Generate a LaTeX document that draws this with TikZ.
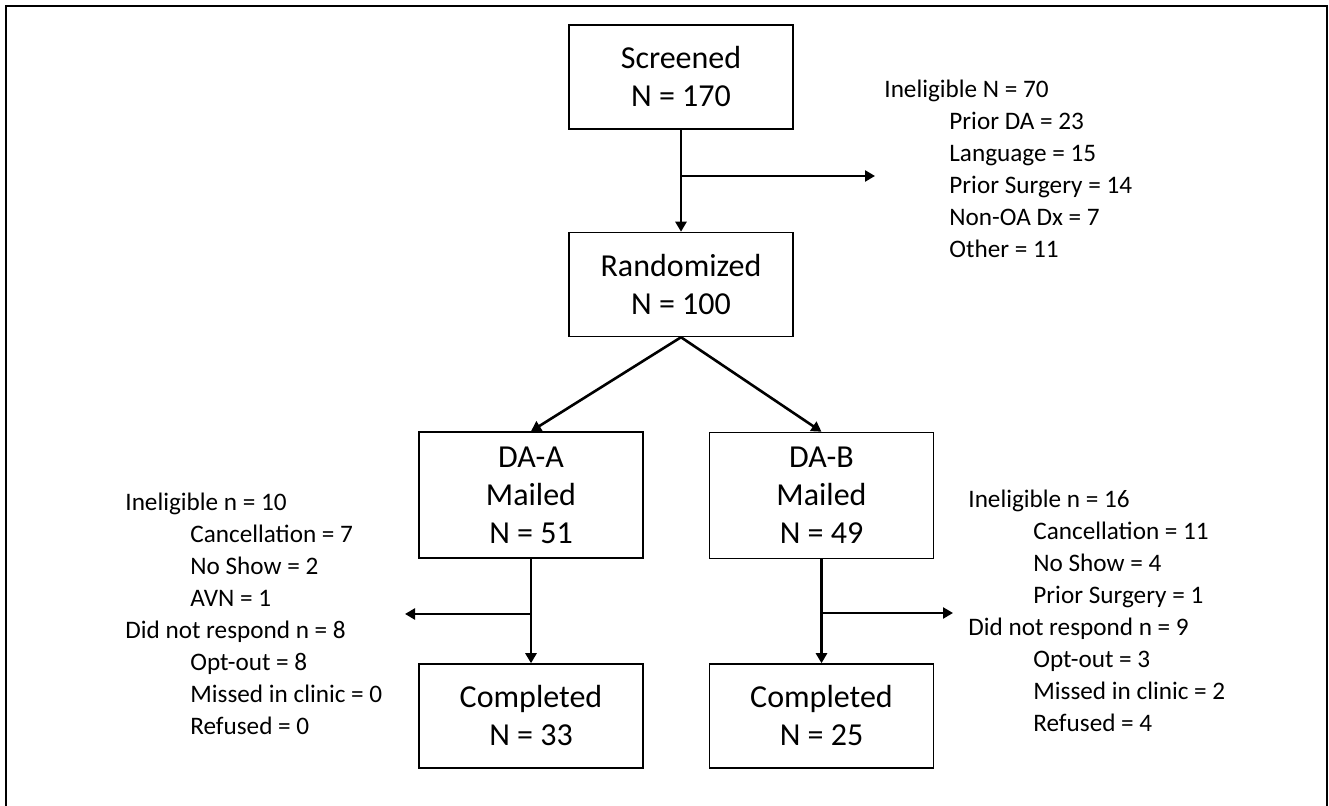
\documentclass[tikz,border=0pt]{standalone}
\usepackage{fontspec}
\setmainfont{Carlito}
\usetikzlibrary{arrows.meta}
\newcommand{\reason}[1]{\hspace*{32.5pt}#1}

\begin{document}
\begin{tikzpicture}[x=0.5pt, y=-0.5pt,
		box/.style={draw, line width=0.75pt, minimum width=112pt, minimum height=52pt, inner sep=0pt, align=center, font=\fontsize{16}{19}\selectfont},
		mailbox/.style={box, minimum height=63pt},
		flow/.style={line width=1.3pt, -{Triangle[length=5pt, width=5.5pt]}},
		reasons/.style={anchor=west, inner sep=0pt, align=left, font=\fontsize{12.6}{16}\selectfont}]
		\useasboundingbox (0,0) rectangle (1329,806);
		\draw [line width=1.1pt] (6,806) -- (6,6) -- (1327,6) -- (1327,806);
		% boxes
		\node [box] (screened) at (681,77) {Screened\\N = 170};
		\node [box] (randomized) at (681,284.5) {Randomized\\N = 100};
		\node [mailbox] (daa) at (531,495) {DA-A\\Mailed\\N = 51};
		\node [mailbox] (dab) at (821.5,495.5) {DA-B\\Mailed\\N = 49};
		\node [box] (donea) at (531,716) {Completed\\N = 33};
		\node [box] (doneb) at (821.5,716) {Completed\\N = 25};
		% exclusions
		\node [reasons] (outall) at (884,169) {Ineligible N = 70\\\reason{Prior DA = 23}\\\reason{Language = 15}\\\reason{Prior Surgery = 14}\\\reason{Non-OA Dx = 7}\\\reason{Other = 11}};
		\node [reasons] (outa) at (125,614) {Ineligible n = 10\\\reason{Cancellation = 7}\\\reason{No Show = 2}\\\reason{AVN = 1}\\Did not respond n = 8\\\reason{Opt-out = 8}\\\reason{Missed in clinic = 0}\\\reason{Refused = 0}};
		\node [reasons] (outb) at (968,611) {Ineligible n = 16\\\reason{Cancellation = 11}\\\reason{No Show = 4}\\\reason{Prior Surgery = 1}\\Did not respond n = 9\\\reason{Opt-out = 3}\\\reason{Missed in clinic = 2}\\\reason{Refused = 4}};
		\coordinate (tipall) at (875,176);
		\coordinate (tipa) at (405,614);
		\coordinate (tipb) at (953,613);
		% arrows
		\draw [flow] (screened) -- (randomized);
		\draw [flow] (screened.south |- tipall) -- (tipall);
		\draw [flow] (randomized.south) -- (daa.north);
		\draw [flow] (randomized.south) -- (dab.north);
		\draw [flow] (daa) -- (donea);
		\draw [flow] (daa.south |- tipa) -- (tipa);
		\draw [flow] (dab) -- (doneb);
		\draw [flow] (dab.south |- tipb) -- (tipb);
		\end{tikzpicture}
\end{document}
